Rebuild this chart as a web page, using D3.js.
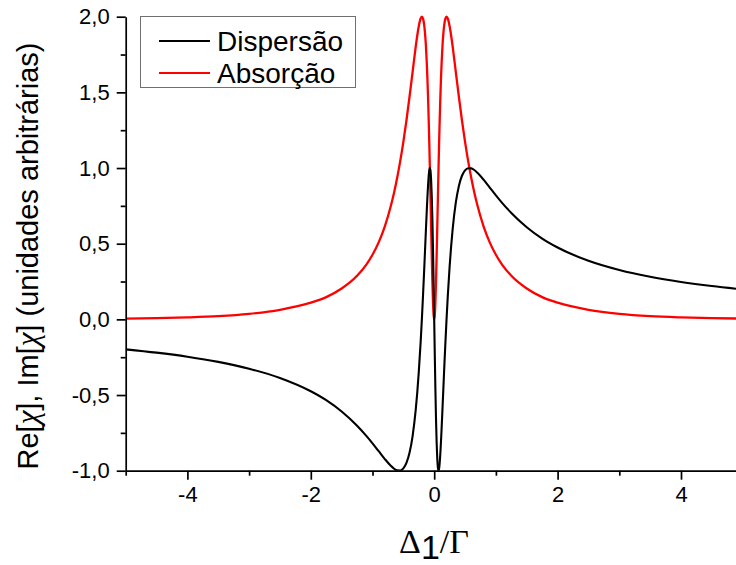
<!DOCTYPE html>
<html>
<head>
<meta charset="utf-8">
<script src="https://cdn.jsdelivr.net/npm/d3@7/dist/d3.min.js"></script>
<style>
  html, body { margin: 0; padding: 0; background: #fff; }
  svg { display: block; }
  text { font-family: "Liberation Sans", Arial, sans-serif; fill: #000; }
</style>
</head>
<body>
<svg id="chart" width="736" height="565"></svg>
<script>
// Detuning samples (Δ1/Γ), symmetric about zero
const detuning = [
  -5, -4.5, -4, -3.5, -3, -2.5, -2, -1.75, -1.5, -1.25, -1.1, -1, -0.9, -0.8, -0.7, -0.65,
  -0.6, -0.55, -0.5, -0.45, -0.4, -0.35, -0.3, -0.275, -0.25, -0.22, -0.2, -0.18, -0.165,
  -0.15, -0.135, -0.12, -0.11, -0.1, -0.09, -0.08, -0.07, -0.06, -0.05, -0.04, -0.03, -0.02, -0.01,
  0,
  0.01, 0.02, 0.03, 0.04, 0.05, 0.06, 0.07, 0.08, 0.09, 0.1, 0.11, 0.12, 0.135, 0.15,
  0.165, 0.18, 0.2, 0.22, 0.25, 0.275, 0.3, 0.35, 0.4, 0.45, 0.5, 0.55, 0.6,
  0.65, 0.7, 0.8, 0.9, 1, 1.1, 1.25, 1.5, 1.75, 2, 2.5, 3, 3.5, 4, 4.5, 5
];

// Re[χ] — dispersion
const dispersion = [
  -0.198, -0.220, -0.247, -0.281, -0.326, -0.387, -0.475, -0.534, -0.609, -0.703, -0.770, -0.819, -0.871, -0.923, -0.969, -0.987,
  -0.998, -0.999, -0.985, -0.949, -0.882, -0.771, -0.600, -0.486, -0.349, -0.152, 0, 0.168, 0.302,
  0.443, 0.584, 0.722, 0.807, 0.882, 0.944, 0.985, 1.000, 0.982, 0.923, 0.819, 0.669, 0.475, 0.247,
  0,
  -0.247, -0.475, -0.669, -0.819, -0.923, -0.982, -1.000, -0.985, -0.944, -0.882, -0.807, -0.722, -0.584, -0.443,
  -0.302, -0.168, 0, 0.152, 0.349, 0.486, 0.600, 0.771, 0.882, 0.949, 0.985, 0.999, 0.998,
  0.987, 0.969, 0.923, 0.871, 0.819, 0.770, 0.703, 0.609, 0.534, 0.475, 0.387, 0.326, 0.281, 0.247, 0.220, 0.198
];

// Im[χ] — absorption
const absorption = [
  0.005, 0.008, 0.013, 0.021, 0.036, 0.063, 0.110, 0.147, 0.204, 0.288, 0.362, 0.427, 0.509, 0.615, 0.754, 0.839,
  0.936, 1.047, 1.173, 1.314, 1.471, 1.636, 1.800, 1.874, 1.937, 1.988, 2.000, 1.986, 1.953,
  1.897, 1.812, 1.692, 1.591, 1.471, 1.331, 1.173, 0.997, 0.809, 0.615, 0.427, 0.257, 0.120, 0.031,
  0,
  0.031, 0.120, 0.257, 0.427, 0.615, 0.809, 0.997, 1.173, 1.331, 1.471, 1.591, 1.692, 1.812, 1.897,
  1.953, 1.986, 2.000, 1.988, 1.937, 1.874, 1.800, 1.636, 1.471, 1.314, 1.173, 1.047, 0.936,
  0.839, 0.754, 0.615, 0.509, 0.427, 0.362, 0.288, 0.204, 0.147, 0.110, 0.063, 0.036, 0.021, 0.013, 0.008, 0.005
];

const xMajorTicks = [-4, -2, 0, 2, 4];
const xMinorTicks = [-5, -3, -1, 1, 3, 5];
const yMajorTicks = [-1, -0.5, 0, 0.5, 1, 1.5, 2];
const yMinorTicks = [-0.75, -0.25, 0.25, 0.75, 1.25, 1.75];
const seriesNames = ["Dispersão", "Absorção"];
const seriesColors = ["#000000", "#ff0000"];

const svg = d3.select("#chart");

const x = d3.scaleLinear().domain([-5, 5]).range([125.7, 742.7]);
const y = d3.scaleLinear().domain([-1, 2]).range([470.7, 16.7]);

const commaFmt = v => d3.format(".1f")(v).replace("−", "-").replace(".", ",");

// clip so curves stay inside the plotting frame
svg.append("defs").append("clipPath").attr("id", "plotClip")
  .append("rect")
  .attr("x", x(-5)).attr("y", y(2) - 3)
  .attr("width", x(5) - x(-5)).attr("height", y(-1) - y(2) + 3);

const points = detuning.map((d, i) => ({ x: d, re: dispersion[i], im: absorption[i] }));

const line = key => d3.line()
  .x(d => x(d.x))
  .y(d => y(d[key]))
  .curve(d3.curveMonotoneX);

const curves = svg.append("g").attr("clip-path", "url(#plotClip)");
curves.append("path").datum(points)
  .attr("d", line("im"))
  .attr("fill", "none").attr("stroke", seriesColors[1]).attr("stroke-width", 2.3)
  .attr("stroke-linejoin", "round");
curves.append("path").datum(points)
  .attr("d", line("re"))
  .attr("fill", "none").attr("stroke", seriesColors[0]).attr("stroke-width", 2.1)
  .attr("stroke-linejoin", "round");

// axes
function styleAxis(g) {
  g.selectAll("path.domain").attr("stroke", "#000").attr("stroke-width", 1.7);
  g.selectAll(".tick line").attr("stroke", "#000").attr("stroke-width", 1.7);
  g.selectAll(".tick text").style("font-size", "22px").style("font-family", "'Liberation Sans', Arial, sans-serif");
}

const xAxis = svg.append("g").attr("transform", `translate(0,${y(-1)})`)
  .call(d3.axisBottom(x).tickValues(xMajorTicks).tickSize(9).tickSizeOuter(0).tickPadding(7)
    .tickFormat(v => String(v).replace("−", "-")));
styleAxis(xAxis);

svg.append("g").attr("transform", `translate(0,${y(-1)})`)
  .call(d3.axisBottom(x).tickValues(xMinorTicks).tickSize(5).tickSizeOuter(0).tickFormat(""))
  .call(g => g.select("path.domain").remove())
  .call(g => g.selectAll(".tick line").attr("stroke", "#000").attr("stroke-width", 1.7));

const yAxis = svg.append("g").attr("transform", `translate(${x(-5)},0)`)
  .call(d3.axisLeft(y).tickValues(yMajorTicks).tickSize(9).tickSizeOuter(0).tickPadding(7)
    .tickFormat(commaFmt));
styleAxis(yAxis);

svg.append("g").attr("transform", `translate(${x(-5)},0)`)
  .call(d3.axisLeft(y).tickValues(yMinorTicks).tickSize(5).tickSizeOuter(0).tickFormat(""))
  .call(g => g.select("path.domain").remove())
  .call(g => g.selectAll(".tick line").attr("stroke", "#000").attr("stroke-width", 1.7));

// axis titles
const serif = "'Liberation Serif', 'Times New Roman', serif";
const yTitle = svg.append("text")
  .attr("transform", "translate(38,256) rotate(-90)")
  .attr("text-anchor", "middle")
  .style("font-size", "29px");
yTitle.append("tspan").text("Re[");
yTitle.append("tspan").style("font-family", serif).style("font-style", "italic").style("font-size", "31px").text("χ");
yTitle.append("tspan").text("], Im[");
yTitle.append("tspan").style("font-family", serif).style("font-style", "italic").style("font-size", "31px").text("χ");
yTitle.append("tspan").text("] (unidades arbitrárias)");

const xTitle = svg.append("text")
  .attr("x", 434).attr("y", 553)
  .attr("text-anchor", "middle")
  .style("font-size", "34px");
xTitle.append("tspan").style("font-family", serif).text("Δ");
xTitle.append("tspan").attr("dy", 6).style("font-family", "'Liberation Sans', Arial, sans-serif").text("1");
xTitle.append("tspan").attr("dy", -6).style("font-family", serif).text("/Γ");

// legend
const legend = svg.append("g");
legend.append("rect")
  .attr("x", 140.5).attr("y", 16.5).attr("width", 215).attr("height", 71)
  .attr("fill", "#fff").attr("stroke", "#707070").attr("stroke-width", 1);
seriesNames.forEach((name, i) => {
  const ly = 41 + i * 32;
  legend.append("line")
    .attr("x1", 159).attr("x2", 210).attr("y1", ly).attr("y2", ly)
    .attr("stroke", seriesColors[i]).attr("stroke-width", 2.1);
  legend.append("text")
    .attr("x", 217).attr("y", ly + 10)
    .style("font-size", "28px")
    .text(name);
});
</script>
</body>
</html>
